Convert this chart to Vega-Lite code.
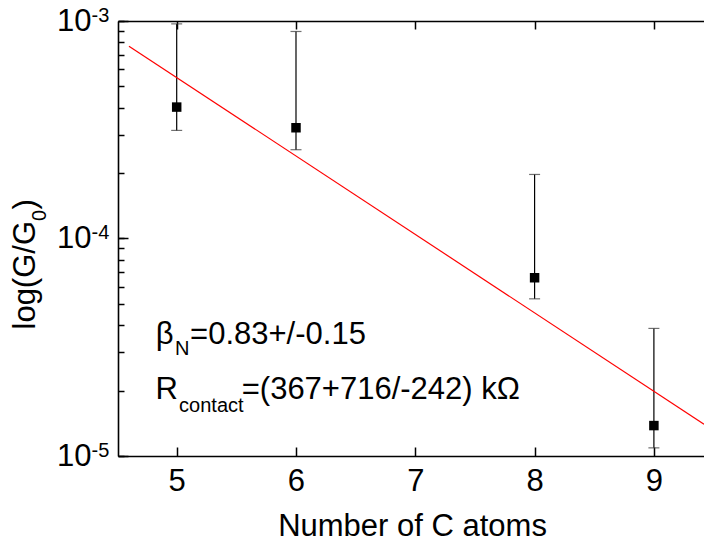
{
  "$schema": "https://vega.github.io/schema/vega-lite/v6.json",
  "autosize": {"type": "none"},
  "padding": {"left": 118, "top": 21, "right": 0, "bottom": 87},
  "width": 586,
  "height": 435,
  "background": "white",
  "config": {
    "view": {"stroke": null},
    "axis": {
      "labelFont": "Liberation Sans",
      "titleFont": "Liberation Sans",
      "labelColor": "black",
      "titleColor": "black",
      "domainColor": "black",
      "tickColor": "black",
      "domainWidth": 1.6,
      "tickWidth": 1.5,
      "grid": false,
      "labelFlush": false,
      "labelOverlap": false,
      "titleFontWeight": "normal"
    },
    "text": {"font": "Liberation Sans", "color": "black"}
  },
  "datasets": {
    "points": [
      {"n": 5, "g": 4.02e-4, "lo": 3.14e-4, "hi": 9.7e-4},
      {"n": 6, "g": 3.23e-4, "lo": 2.56e-4, "hi": 8.95e-4},
      {"n": 8, "g": 6.6e-5, "lo": 5.28e-5, "hi": 1.97e-4},
      {"n": 9, "g": 1.38e-5, "lo": 1.09e-5, "hi": 3.86e-5}
    ],
    "fit": [
      {"n": 4.6, "g": 7.66e-4},
      {"n": 9.42, "g": 1.40e-5}
    ],
    "labels": [
      {"n": 4.825, "g": 3.26e-5, "t": "β"},
      {"n": 5.112, "g": 3.26e-5, "t": "=0.83+/-0.15"},
      {"n": 4.823, "g": 1.82e-5, "t": "R"},
      {"n": 5.545, "g": 1.82e-5, "t": "=(367+716/-242) kΩ"}
    ],
    "subscripts": [
      {"n": 4.985, "g": 2.9e-5, "t": "N"},
      {"n": 5.02, "g": 1.6e-5, "t": "contact"}
    ]
  },
  "resolve": {"axis": {"x": "independent", "y": "independent"}},
  "layer": [
    {
      "data": {"name": "points"},
      "mark": {"type": "rule", "color": "black", "strokeWidth": 1.2},
      "encoding": {
        "x": {
          "field": "n", "type": "quantitative",
          "scale": {"domain": [4.508, 9.42], "nice": false, "zero": false},
          "axis": {
            "orient": "bottom",
            "values": [5, 6, 7, 8, 9],
            "tickSize": -9,
            "labelPadding": 43,
            "labelBaseline": "alphabetic",
            "labelFontSize": 31,
            "title": "Number of C atoms",
            "titleFontSize": 31,
            "titleX": 294,
            "titleY": 79,
            "titleAlign": "center",
            "titleBaseline": "alphabetic"
          }
        },
        "y": {
          "field": "lo", "type": "quantitative",
          "scale": {"type": "log", "domain": [1e-5, 1e-3], "nice": false},
          "axis": {
            "orient": "left",
            "values": [1e-5, 1e-4, 1e-3],
            "tickSize": -10,
            "labelPadding": 37,
            "labelAlign": "right",
            "labelBaseline": "middle",
            "labelFontSize": 31,
            "labelExpr": "'10'",
            "title": "log(G/G",
            "titleFontSize": 31,
            "titleAngle": 270,
            "titleAlign": "left",
            "titleBaseline": "alphabetic",
            "titleX": -84,
            "titleY": 308
          }
        },
        "y2": {"field": "hi"}
      }
    },
    {
      "data": {"name": "points"},
      "mark": {"type": "tick", "orient": "horizontal", "size": 11, "thickness": 1.2, "color": "#333"},
      "encoding": {
        "x": {"field": "n", "type": "quantitative", "axis": null},
        "y": {"field": "lo", "type": "quantitative", "axis": null}
      }
    },
    {
      "data": {"name": "points"},
      "mark": {"type": "tick", "orient": "horizontal", "size": 11, "thickness": 1.2, "color": "#333"},
      "encoding": {
        "x": {"field": "n", "type": "quantitative", "axis": null},
        "y": {"field": "hi", "type": "quantitative", "axis": null}
      }
    },
    {
      "data": {"name": "points"},
      "mark": {"type": "point", "shape": "square", "filled": true, "size": 90, "color": "black", "opacity": 1},
      "encoding": {
        "x": {"field": "n", "type": "quantitative", "axis": null},
        "y": {"field": "g", "type": "quantitative", "axis": null}
      }
    },
    {
      "data": {"name": "fit"},
      "mark": {"type": "line", "color": "#ff0000", "strokeWidth": 1.2, "clip": true},
      "encoding": {
        "x": {
          "field": "n", "type": "quantitative",
          "axis": {
            "orient": "top",
            "values": [5, 6, 7, 8, 9],
            "tickSize": -8,
            "labels": false,
            "title": null
          }
        },
        "y": {
          "field": "g", "type": "quantitative",
          "axis": {
            "orient": "left",
            "values": [1e-5, 2e-5, 3e-5, 4e-5, 5e-5, 6e-5, 7e-5, 8e-5, 9e-5, 1e-4, 2e-4, 3e-4, 4e-4, 5e-4, 6e-4, 7e-4, 8e-4, 9e-4, 1e-3],
            "tickSize": -6,
            "domain": false,
            "labelPadding": 33,
            "labelAlign": "left",
            "labelBaseline": "alphabetic",
            "labelDy": -4,
            "labelFontSize": 20,
            "labelExpr": "abs(log(datum.value)/LN10 - round(log(datum.value)/LN10)) < 0.001 ? '-' + abs(round(log(datum.value)/LN10)) : ''",
            "title": "0",
            "titleFontSize": 20,
            "titleAngle": 270,
            "titleAlign": "left",
            "titleBaseline": "alphabetic",
            "titleX": -73,
            "titleY": 199.5
          }
        }
      }
    },
    {
      "data": {"name": "labels"},
      "mark": {"type": "text", "fontSize": 31, "align": "left", "baseline": "alphabetic"},
      "encoding": {
        "x": {"field": "n", "type": "quantitative", "axis": null},
        "y": {
          "field": "g", "type": "quantitative",
          "axis": {
            "orient": "left",
            "ticks": false,
            "labels": false,
            "domain": false,
            "title": ")",
            "titleFontSize": 31,
            "titleAngle": 270,
            "titleAlign": "left",
            "titleBaseline": "alphabetic",
            "titleX": -84,
            "titleY": 188
          }
        },
        "text": {"field": "t"}
      }
    },
    {
      "data": {"name": "subscripts"},
      "mark": {"type": "text", "fontSize": 20, "align": "left", "baseline": "alphabetic"},
      "encoding": {
        "x": {"field": "n", "type": "quantitative", "axis": null},
        "y": {"field": "g", "type": "quantitative", "axis": null},
        "text": {"field": "t"}
      }
    }
  ]
}
